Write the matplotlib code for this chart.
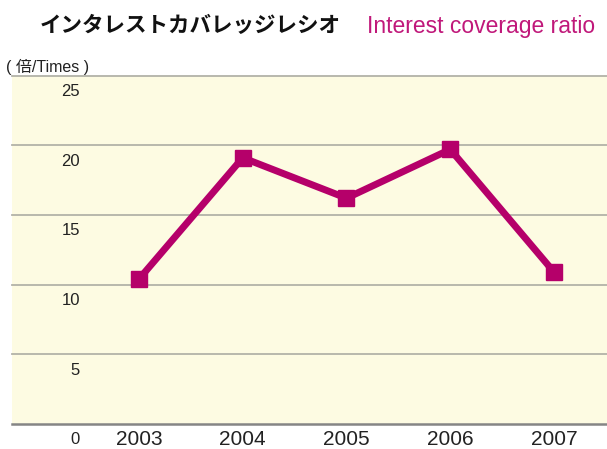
import matplotlib
matplotlib.use("Agg")
import matplotlib.pyplot as plt
import numpy as np

years = ["2003", "2004", "2005", "2006", "2007"]
ratio = [10.4, 19.1, 16.2, 19.7, 10.9]
yticks = [0, 5, 10, 15, 20, 25]

line_col = "#b5006a"
bg_col = "#fdfbe2"

fig = plt.figure(figsize=(6.07, 4.49), dpi=100)
ax = fig.add_axes([12 / 607, 1 - 424 / 449, 595 / 607, (424 - 75.5) / 449])
ax.set_facecolor(bg_col)

x = np.arange(len(years))
ax.set_xlim(-1.224, 4.511)
ax.set_ylim(0, 25)

# grid lines
for v in yticks[1:]:
    ax.axhline(v, color="#b2b2a8", lw=1.3, zorder=1, clip_on=False)
ax.axhline(0, color="#858585", lw=1.8, zorder=1, clip_on=False)

ax.plot(x, ratio, color=line_col, lw=5, marker="s", markersize=11.5,
        solid_joinstyle="miter", zorder=3)

for s in ax.spines.values():
    s.set_visible(False)
ax.set_xticks([])
ax.set_yticks([])

# y labels sit just below their grid lines
for v in yticks:
    ax.annotate(str(v), xy=(80 / 607, v), xycoords=("figure fraction", "data"),
                xytext=(0, -6), textcoords="offset points",
                ha="right", va="top", fontsize=12,
                family="Liberation Sans", color="#222222", annotation_clip=False)

for xi, yr in zip(x, years):
    ax.annotate(yr, xy=(xi, 0), xycoords="data", xytext=(0, -4),
                textcoords="offset points", ha="center", va="top",
                fontsize=15, family="Liberation Sans", color="#222222",
                annotation_clip=False)

fig.text(40 / 607, 1 - 26 / 449, "インタレストカバレッジレシオ", fontsize=15.5,
         fontweight="bold", family="Noto Sans CJK JP", color="#111111",
         ha="left", va="center")
fig.text(367 / 607, 1 - 33 / 449, "Interest coverage ratio", fontsize=16.5,
         family="Liberation Sans", color="#c0187a",
         ha="left", va="baseline")
fig.text(6 / 607, 1 - 67 / 449, "( 倍/Times )", fontsize=11.5,
         family=["Liberation Sans", "Noto Sans CJK JP"], color="#222222",
         ha="left", va="center")

fig.savefig("out.png", dpi=100)
